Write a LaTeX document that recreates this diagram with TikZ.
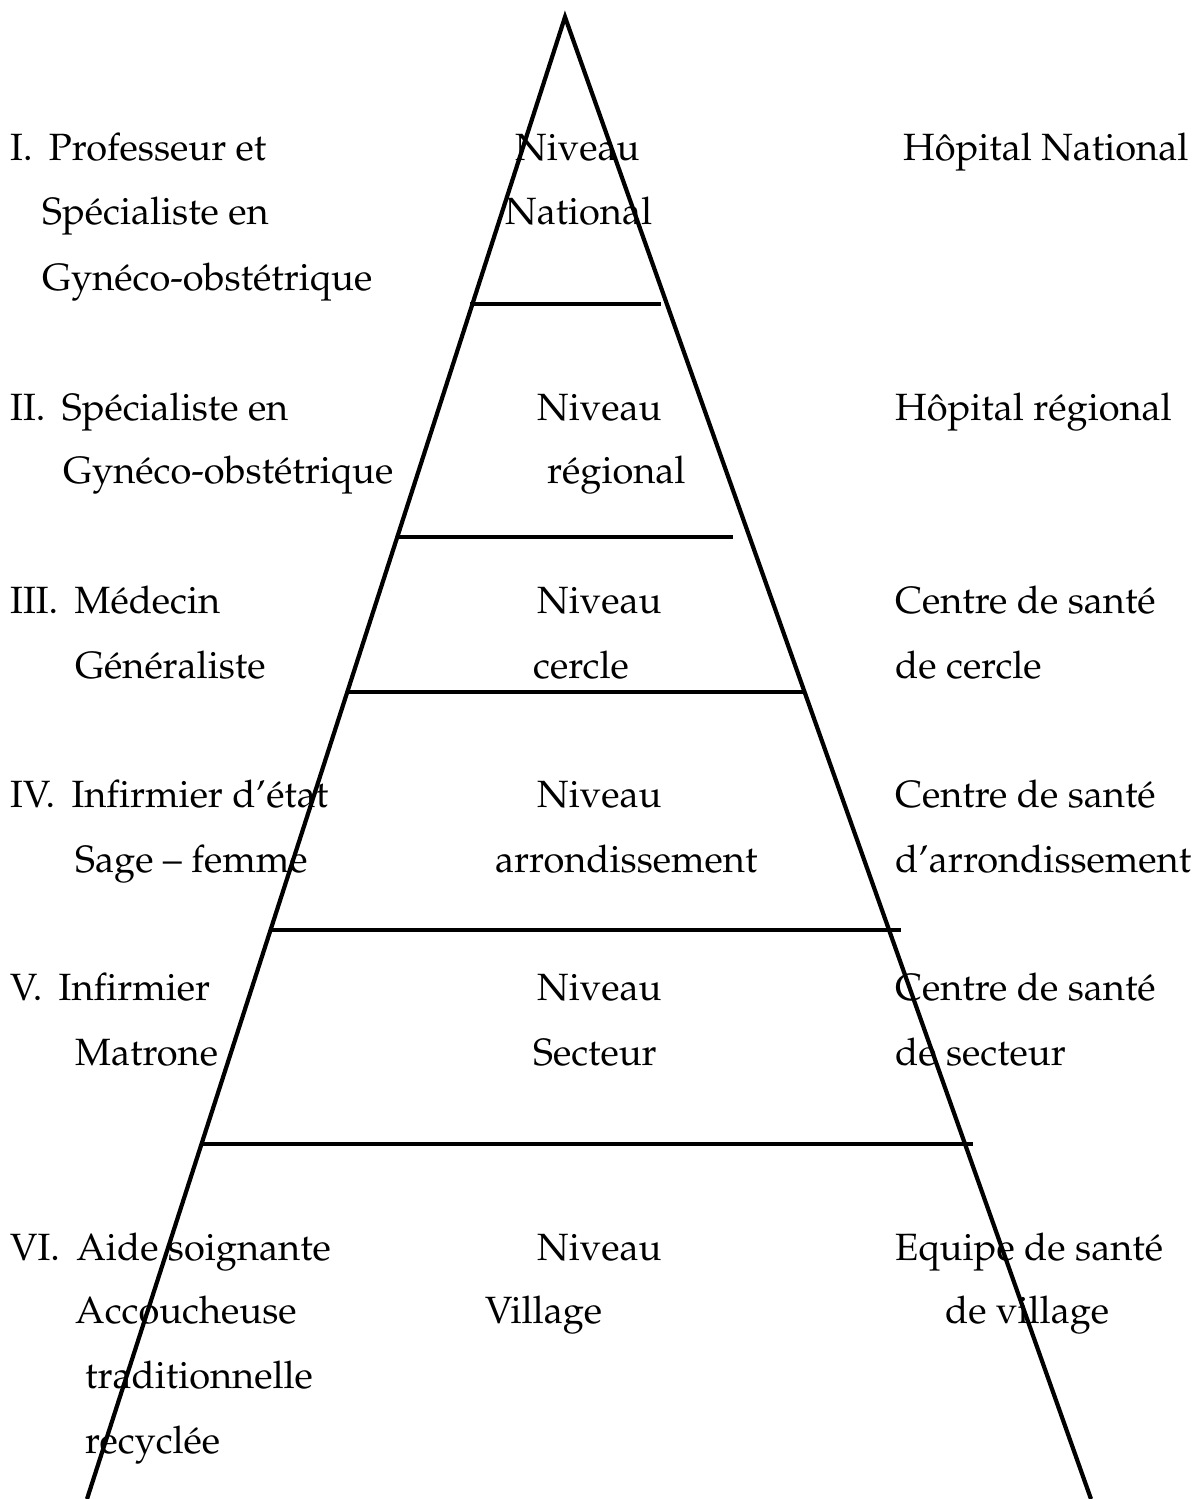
\documentclass[tikz,border=0pt]{standalone}
\usepackage[T1]{fontenc}
\usepackage{mathpazo}
\begin{document}
\begin{tikzpicture}[x=1pt,y=-1pt,
  txt/.style={anchor=base west,inner sep=0pt,font=\fontsize{38}{38}\selectfont},
  edge/.style={line width=4.2pt,line join=miter},
  level/.style={line width=4.2pt}]
\newcommand{\numsp}{\hspace{7pt} }
\useasboundingbox (0,0) rectangle (1195,1499);
% triangle
\coordinate (apex) at (565,17);
\coordinate (bl) at (87,1499);
\coordinate (br) at (1091,1499);
\draw[edge] (bl) -- (apex) -- (br);
% level lines
\coordinate (l1a) at (470,304); \coordinate (l1b) at (661,304);
\coordinate (l2a) at (396,537); \coordinate (l2b) at (733,537);
\coordinate (l3a) at (346,692); \coordinate (l3b) at (803,692);
\coordinate (l4a) at (270,930); \coordinate (l4b) at (901,930);
\coordinate (l5a) at (200,1144); \coordinate (l5b) at (973,1144);
\draw[level] (l1a) -- (l1b);
\draw[level] (l2a) -- (l2b);
\draw[level] (l3a) -- (l3b);
\draw[level] (l4a) -- (l4b);
\draw[level] (l5a) -- (l5b);
% row 1
\node[txt] (p1a) at (10,160) {I.\numsp Professeur et};
\node[txt] (p1b) at (42,224) {Sp\'ecialiste en};
\node[txt] (p1c) at (42,290) {Gyn\'eco-obst\'etrique};
\node[txt] (n1a) at (515,160) {Niveau};
\node[txt] (n1b) at (505,224) {National};
\node[txt] (h1a) at (903,160) {H\^opital National};
% row 2
\node[txt] (p2a) at (10,420) {II.\numsp Sp\'ecialiste en};
\node[txt] (p2b) at (63,483) {Gyn\'eco-obst\'etrique};
\node[txt] (n2a) at (537,420) {Niveau};
\node[txt] (n2b) at (547,483) {r\'egional};
\node[txt] (h2a) at (895,420) {H\^opital r\'egional};
% row 3
\node[txt] (p3a) at (10,613) {III.\numsp M\'edecin};
\node[txt] (p3b) at (75,678) {G\'en\'eraliste};
\node[txt] (n3a) at (537,613) {Niveau};
\node[txt] (n3b) at (533,678) {cercle};
\node[txt] (h3a) at (895,613) {Centre de sant\'e};
\node[txt] (h3b) at (895,678) {de cercle};
% row 4
\node[txt] (p4a) at (10,807) {IV.\numsp Inf{}irmier d'\'etat};
\node[txt] (p4b) at (75,872) {Sage -- femme};
\node[txt] (n4a) at (537,807) {Niveau};
\node[txt] (n4b) at (495,872) {arrondissement};
\node[txt] (h4a) at (895,807) {Centre de sant\'e};
\node[txt] (h4b) at (895,872) {d'arrondissement};
% row 5
\node[txt] (p5a) at (10,1000) {V.\numsp Inf{}irmier};
\node[txt] (p5b) at (75,1065) {Matrone};
\node[txt] (n5a) at (537,1000) {Niveau};
\node[txt] (n5b) at (533,1065) {Secteur};
\node[txt] (h5a) at (895,1000) {Centre de sant\'e};
\node[txt] (h5b) at (895,1065) {de secteur};
% row 6
\node[txt] (p6a) at (10,1260) {VI.\numsp Aide soignante};
\node[txt] (p6b) at (75,1323) {Accoucheuse};
\node[txt] (p6c) at (85,1388) {traditionnelle};
\node[txt] (p6d) at (85,1453) {recycl\'ee};
\node[txt] (n6a) at (537,1260) {Niveau};
\node[txt] (n6b) at (485,1323) {Village};
\node[txt] (h6a) at (895,1260) {Equipe de sant\'e};
\node[txt] (h6b) at (945,1323) {de village};
\end{tikzpicture}
\end{document}
